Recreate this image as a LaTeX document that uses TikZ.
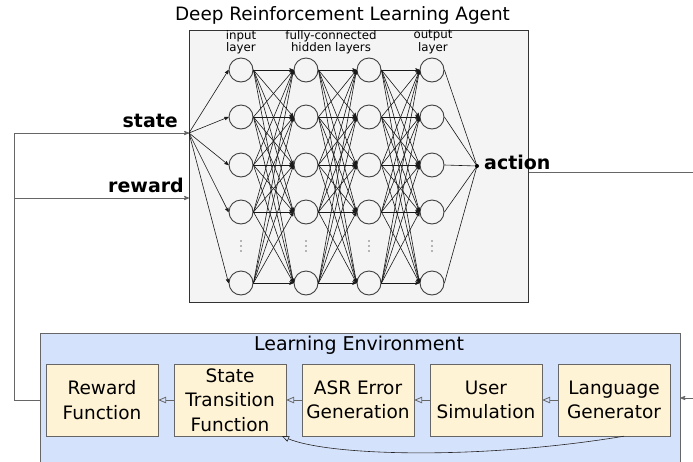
\documentclass[tikz,border=0pt]{standalone}
\usepackage{fontspec}
\setmainfont{DejaVu Sans}
\usetikzlibrary{arrows,shapes,positioning}

\definecolor{agentbg}{HTML}{F4F4F4}
\definecolor{envbg}{HTML}{D5E2FB}
\definecolor{modbg}{HTML}{FFF3D5}
\definecolor{linegray}{HTML}{666666}

\tikzset{
  neuron/.style={circle,draw=black!75,line width=0.9pt,fill=agentbg,minimum size=24pt,inner sep=0pt},
  module/.style={rectangle,draw=linegray,fill=modbg,minimum width=112pt,minimum height=72pt,
    inner sep=1pt,align=center,font=\fontsize{18.5}{24.5}\selectfont},
  iolabel/.style={font=\bfseries\fontsize{19}{22}\selectfont,inner sep=0pt},
  layerlabel/.style={font=\fontsize{11.8}{11}\selectfont,align=center,inner sep=0pt},
  fb/.style={draw=linegray,line width=0.8pt},
  wire/.style={black!90,line width=0.6pt}
}

\begin{document}
\begin{tikzpicture}[x=1pt,y=-1pt,>=stealth',node distance=128pt]
  \useasboundingbox (0,0) rectangle (693,461);
  \clip (0,0) rectangle (693,461);

  % Agent
  \node[draw=black!80,line width=1pt,fill=agentbg,minimum width=339pt,minimum height=272pt,inner sep=0pt]
    (agent) at (358.5,166) {};
  \node[font=\fontsize{18.4}{20}\selectfont] (agent title) at (342.5,15) {Deep Reinforcement Learning Agent};

  % Layers
  \foreach \l/\x in {1/241,2/306,3/369,4/432}{
    \foreach \r/\y in {1/70,2/117,3/165,4/212,6/283}
      \node[neuron] (n-\l-\r) at (\x,\y) {};
    \foreach \y in {241,246,251}
      \fill[black!55] (\x,\y) circle (0.8pt);
  }
  \node[layerlabel] (in lbl)  at (241,42) {input\\layer};
  \node[layerlabel] (hid lbl) at (331,42) {fully-connected\\hidden layers};
  \node[layerlabel] (out lbl) at (433,42) {output\\layer};

  \foreach \l/\m in {1/2,2/3,3/4}
    \foreach \i in {1,2,3,4,6}
      \foreach \j in {1,2,3,4,6}
        \draw[->,wire] (n-\l-\i.east) -- (n-\m-\j.west);

  % In and out of the network
  \coordinate (in) at (189,133);
  \coordinate (out) at (477,166);
  \foreach \r in {1,2,3,4,6}{
    \draw[->,wire] (in) -- (n-1-\r.west);
    \draw[wire] (n-4-\r.east) -- (out);
  }
  \fill (out) circle (2pt);
  \node[iolabel,anchor=west] (action) at (484,162) {action};

  % Environment
  \node[draw=linegray,line width=0.8pt,fill=envbg,minimum width=640pt,minimum height=145pt,inner sep=0pt]
    (env) at (360,405.5) {};
  \node[font=\fontsize{19}{22}\selectfont] (env title) at (359,345) {Learning Environment};

  \node[module] (reward fn) at (102,400) {Reward\\Function};
  \node[module] (state tr)  [right of=reward fn] {State\\Transition\\Function};
  \node[module] (asr err)   [right of=state tr]  {ASR Error\\Generation};
  \node[module] (user sim)  [right of=asr err]   {User\\Simulation};
  \node[module] (lang gen)  [right of=user sim]  {Language\\Generator};

  \draw[fb,-open triangle 45] (lang gen) -- (user sim);
  \draw[fb,-open triangle 45] (user sim) -- (asr err);
  \draw[fb,-open triangle 45] (asr err) -- (state tr);
  \draw[fb,-open triangle 45] (state tr) -- (reward fn);
  \draw[black!85,line width=0.6pt,-open triangle 45]
    ([xshift=10pt]lang gen.south) .. controls (480,460) and (330,456) .. ([xshift=52pt]state tr.south);

  % Feedback loop
  \coordinate (loop) at (14,133);
  \coordinate (rw in) at (189,198);
  \draw[fb,->] (reward fn.west -| env.west) -| (loop) -- (in);
  \draw[fb,->] (loop |- rw in) -- (rw in);
  \node[iolabel,anchor=south east] (state lbl) at (178,128) {state};
  \node[iolabel,anchor=south east] (reward lbl) at (184,193) {reward};

  \coordinate (act end) at (693,172);
  \coordinate (env in) at (693,398);
  \draw[fb] (agent.east |- act end) -- (act end);
  \draw[fb,->] (env in) -- (env.east |- env in);
\end{tikzpicture}
\end{document}
